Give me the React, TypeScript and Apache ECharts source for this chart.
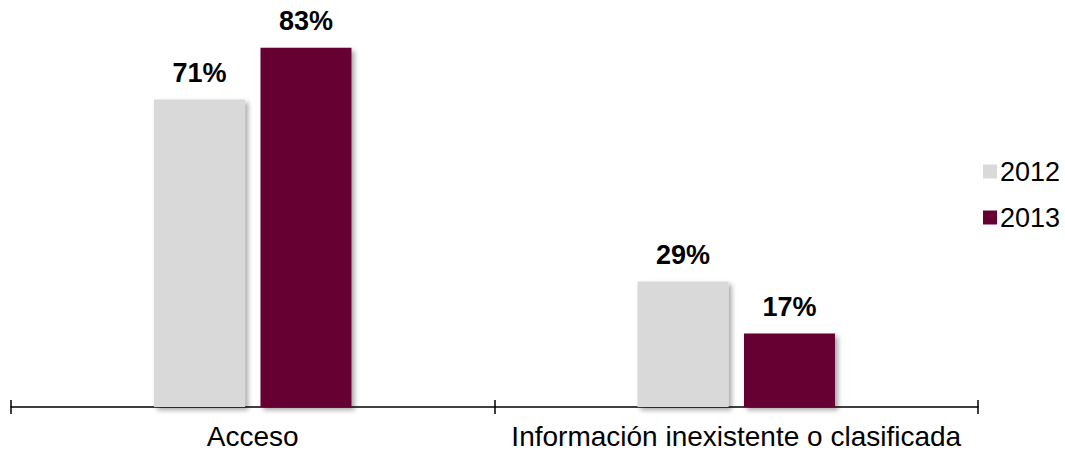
import React, { useEffect, useRef } from "react";
import * as echarts from "echarts";

const categories = ["Acceso", "Información inexistente o clasificada"];
const seriesNames = ["2012", "2013"];
const values2012 = [71, 29];
const values2013 = [83, 17];
const colors = ["#d9d9d9", "#660033"];

export default function App() {
  const ref = useRef<HTMLDivElement>(null);
  useEffect(() => {
    if (!ref.current) return;
    const chart = echarts.init(ref.current, null, { renderer: "svg" });
    const font = "Liberation Sans, Arial, sans-serif";
    const mkSeries = (name: string, data: number[], color: string) => ({
      name,
      type: "bar",
      data,
      barWidth: 91,
      barGap: "17%",
      itemStyle: {
        color,
        shadowColor: "rgba(0,0,0,0.35)",
        shadowBlur: 5,
        shadowOffsetX: 3,
        shadowOffsetY: 3,
      },
      label: {
        show: true,
        position: "top",
        distance: 13,
        formatter: "{c}%",
        fontFamily: font,
        fontWeight: "bold",
        fontSize: 27,
        color: "#000",
      },
    });
    chart.setOption({
      animation: false,
      textStyle: { fontFamily: font },
      legend: {
        orient: "vertical",
        left: 978,
        top: 153,
        itemWidth: 14,
        itemHeight: 14,
        itemGap: 19,
        itemStyle: { borderWidth: 0 },
        icon: "rect",
        textStyle: { fontSize: 27, color: "#000", fontFamily: font, padding: [0, 0, 0, -2] },
        data: seriesNames,
      },
      grid: { left: 11, right: 87, top: 0, bottom: 46 },
      xAxis: [
        {
          type: "category",
          data: categories,
          axisLine: { show: true, lineStyle: { color: "#000", width: 1.5 } },
          axisTick: { show: true, interval: 0, inside: true, length: 7, lineStyle: { color: "#000", width: 1.5 } },
          axisLabel: { interval: 0, fontSize: 28, color: "#000", margin: 15, fontFamily: font },
        },
        {
          type: "category",
          data: categories,
          position: "bottom",
          axisLine: { show: false },
          axisTick: { show: true, interval: 0, length: 7, lineStyle: { color: "#000", width: 1.5 } },
          axisLabel: { show: false },
        },
      ],
      yAxis: {
        type: "value",
        min: 0,
        max: 94,
        show: false,
        splitLine: { show: false },
      },
      series: [
        mkSeries(seriesNames[0], values2012, colors[0]),
        mkSeries(seriesNames[1], values2013, colors[1]),
      ],
    });
    return () => chart.dispose();
  }, []);
  return (
    <div
      ref={ref}
      style={{ position: "absolute", left: 0, top: 0, width: 1065, height: 453, background: "#fff" }}
    />
  );
}
